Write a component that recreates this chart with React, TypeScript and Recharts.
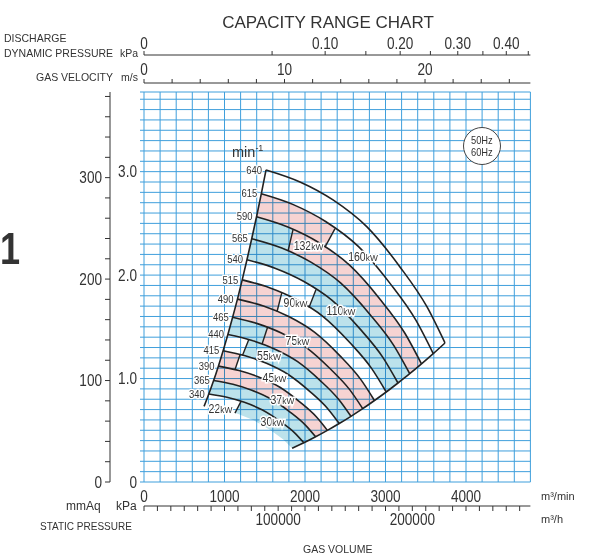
import React from 'react';
import { ComposedChart, Line, XAxis, YAxis, CartesianGrid, ReferenceDot } from 'recharts';

type Pair = [number, number];
type Pt = { q: number; p: number };

// fan curves: [gas volume m3/min, static pressure kPa]
const c315: Pair[] = [[746, 0.731], [954, 0.703], [1156, 0.661], [1363, 0.597], [1565, 0.504], [1731, 0.410], [1840, 0.326]];
const c340: Pair[] = [[805, 0.851], [1030, 0.819], [1247, 0.770], [1472, 0.696], [1689, 0.587], [1868, 0.478], [1986, 0.379]];
const c365: Pair[] = [[865, 0.981], [1105, 0.944], [1339, 0.887], [1580, 0.802], [1814, 0.676], [2005, 0.550], [2132, 0.437]];
const c390: Pair[] = [[924, 1.120], [1181, 1.077], [1431, 1.013], [1688, 0.916], [1938, 0.772], [2143, 0.628], [2278, 0.499]];
const c415: Pair[] = [[983, 1.269], [1257, 1.220], [1522, 1.147], [1796, 1.037], [2062, 0.874], [2280, 0.711], [2425, 0.565]];
const c440: Pair[] = [[1042, 1.426], [1332, 1.371], [1614, 1.289], [1904, 1.166], [2186, 0.983], [2417, 0.800], [2571, 0.635]];
const c465: Pair[] = [[1101, 1.593], [1408, 1.531], [1706, 1.440], [2013, 1.302], [2310, 1.097], [2555, 0.893], [2717, 0.709]];
const c490: Pair[] = [[1161, 1.768], [1484, 1.701], [1798, 1.599], [2121, 1.446], [2435, 1.219], [2692, 0.992], [2863, 0.788]];
const c515: Pair[] = [[1220, 1.954], [1559, 1.878], [1889, 1.766], [2229, 1.597], [2559, 1.346], [2829, 1.096], [3009, 0.870]];
const c540: Pair[] = [[1279, 2.148], [1635, 2.065], [1981, 1.941], [2337, 1.756], [2683, 1.480], [2967, 1.205], [3155, 0.957]];
const c565: Pair[] = [[1338, 2.351], [1711, 2.261], [2073, 2.125], [2445, 1.922], [2807, 1.620], [3104, 1.319], [3301, 1.047]];
const c590: Pair[] = [[1398, 2.564], [1787, 2.465], [2165, 2.318], [2554, 2.096], [2932, 1.767], [3241, 1.438], [3447, 1.142]];
const c615: Pair[] = [[1457, 2.786], [1862, 2.679], [2256, 2.518], [2662, 2.277], [3056, 1.920], [3379, 1.562], [3593, 1.241]];
const c640: Pair[] = [[1516, 3.017], [1938, 2.901], [2348, 2.727], [2770, 2.466], [3180, 2.079], [3516, 1.692], [3739, 1.344]];

const speeds = [340, 365, 390, 415, 440, 465, 490, 515, 540, 565, 590, 615, 640];

const curvesBySpeed: Record<number, Pair[]> = {
  315: c315, 340: c340, 365: c365, 390: c390, 415: c415, 440: c440, 465: c465,
  490: c490, 515: c515, 540: c540, 565: c565, 590: c590, 615: c615, 640: c640,
};

// short motor-size boundaries between two neighbouring curves
const crossLines: Record<string, { lo: Pair; hi: Pair }> = {
  d: { lo: [1130, 0.666], hi: [1205, 0.779] },
  c: { lo: [1130, 1.086], hi: [1193, 1.231] },
  b: { lo: [1224, 1.226], hi: [1302, 1.377] },
  a: { lo: [1466, 1.332], hi: [1534, 1.493] },
  g: { lo: [1652, 1.646], hi: [1711, 1.826] },
  h: { lo: [2050, 1.686], hi: [2137, 1.860] },
  e: { lo: [1789, 2.232], hi: [1851, 2.440] },
  f: { lo: [2248, 2.271], hi: [2373, 2.449] },
};

// shaded pieces between curves
const bands: { lo: number; hi: number; left?: string; right?: string; tone: 'pink' | 'blue' }[] = [
  { lo: 315, hi: 340, left: 'd', tone: 'blue' },
  { lo: 340, hi: 365, tone: 'blue' },
  { lo: 365, hi: 390, tone: 'pink' },
  { lo: 390, hi: 415, right: 'c', tone: 'pink' },
  { lo: 415, hi: 440, left: 'b', tone: 'blue' },
  { lo: 440, hi: 465, right: 'a', tone: 'blue' },
  { lo: 440, hi: 465, left: 'a', tone: 'pink' },
  { lo: 465, hi: 490, tone: 'pink' },
  { lo: 490, hi: 515, right: 'g', tone: 'pink' },
  { lo: 515, hi: 540, left: 'h', tone: 'blue' },
  { lo: 540, hi: 565, tone: 'blue' },
  { lo: 565, hi: 590, right: 'e', tone: 'blue' },
  { lo: 565, hi: 590, left: 'e', tone: 'pink' },
  { lo: 590, hi: 615, right: 'f', tone: 'pink' },
];

const kwLabels = [
  { kw: '22', q: 950, p: 0.706 },
  { kw: '30', q: 1596, p: 0.58 },
  { kw: '37', q: 1720, p: 0.793 },
  { kw: '45', q: 1621, p: 1.006 },
  { kw: '55', q: 1553, p: 1.219 },
  { kw: '75', q: 1907, p: 1.364 },
  { kw: '90', q: 1882, p: 1.731 },
  { kw: '110', q: 2447, p: 1.654 },
  { kw: '132', q: 2043, p: 2.282 },
  { kw: '160', q: 2720, p: 2.176 },
];

const qTicks = Array.from({ length: 25 }, (_, i) => i * 200);
const qLabels = [0, 1000, 2000, 3000, 4000];
const hTicks = Array.from({ length: 29 }, (_, i) => i * 10000);
const hLabels = [100000, 200000];
const kpaTicks = [...Array.from({ length: 38 }, (_, i) => i / 10), 3.77];
const kpaLabels: Record<string, string> = { '0': '0', '1': '1.0', '2': '2.0', '3': '3.0' };
const mmTicks = Array.from({ length: 20 }, (_, i) => i * 20);
const mmLabels = [0, 100, 200, 300];
const vTicks = Array.from({ length: 14 }, (_, i) => i * 2);
const vLabels = [0, 10, 20];
const dpTicks = [0, 0.05, 0.1, 0.15, 0.2, 0.25, 0.3, 0.35, 0.4, 0.45];
const dpLabels: Record<string, string> = { '0': '0', '0.1': '0.10', '0.2': '0.20', '0.3': '0.30', '0.4': '0.40' };

// axis extents, so the secondary scales get a domain of their own
const hRange = [{ h: 0, m: 0 }, { h: 288000, m: 384.4 }];
const vRange = [{ v: 0, m: 0 }, { v: 27.5, m: 384.4 }];
const dpRange = [{ dp: 0, m: 0 }, { dp: 0.455, m: 384.4 }];

const INK = '#333';
const GRID = '#3f9fdc';
const FONT = "'Liberation Sans', Arial, sans-serif";
const SQUEEZE = 0.85;

const toPt = ([q, p]: Pair): Pt => ({ q, p });

function bandPolygon(b: (typeof bands)[number]): Pt[] {
  const lower = curvesBySpeed[b.lo];
  const upper = curvesBySpeed[b.hi];
  const L = b.left ? crossLines[b.left] : null;
  const R = b.right ? crossLines[b.right] : null;
  const loMin = L ? L.lo[0] : -Infinity;
  const loMax = R ? R.lo[0] : Infinity;
  const hiMin = L ? L.hi[0] : -Infinity;
  const hiMax = R ? R.hi[0] : Infinity;
  const bottom = [...(L ? [L.lo] : []), ...lower.filter(([q]) => q > loMin && q < loMax), ...(R ? [R.lo] : [])];
  const top = [...(L ? [L.hi] : []), ...upper.filter(([q]) => q > hiMin && q < hiMax), ...(R ? [R.hi] : [])];
  return [...bottom, ...top.reverse()].map(toPt);
}

const edgeSpeeds = [315, ...speeds];
const surgeLine = edgeSpeeds.map((n) => toPt(curvesBySpeed[n][0]));
const limitLine = edgeSpeeds.map((n) => toPt(curvesBySpeed[n][curvesBySpeed[n].length - 1]));

// narrow-looking tick text (no condensed face installed)
const narrowTick = (fmt: (v: number) => string) => (props: any) => {
  const { x, y, payload, textAnchor, verticalAnchor } = props;
  const label = fmt(payload.value);
  if (!label) return <g />;
  const dy = verticalAnchor === 'start' ? '0.71em' : verticalAnchor === 'middle' ? '0.355em' : '0';
  return (
    <text
      transform={`translate(${x},${y}) scale(${SQUEEZE},1)`} textAnchor={textAnchor} dy={dy}
      fontSize={16} fill={INK} fontFamily={FONT}
    >
      {label}
    </text>
  );
};

const Txt = ({ x, y, size, children, style }: { x: number; y: number; size: number; children: React.ReactNode; style?: React.CSSProperties }) => (
  <div
    style={{
      position: 'absolute', left: x, top: y, fontSize: size, lineHeight: 1, whiteSpace: 'nowrap',
      fontFamily: FONT, color: INK, ...style,
    }}
  >
    {children}
  </div>
);

const hidden = { stroke: 'none', dot: false, activeDot: false, isAnimationActive: false } as const;

export default function App() {
  return (
    <div style={{ position: 'absolute', left: 0, top: 0, width: 592, height: 554, background: '#fff', overflow: 'hidden' }}>
      <style>{`
        .band-pink .recharts-line-curve { fill: #f6d3d2; mix-blend-mode: multiply; }
        .band-blue .recharts-line-curve { fill: #bce2eb; mix-blend-mode: multiply; }
      `}</style>
      <ComposedChart width={592} height={554} margin={{ top: 30, right: 61.6, bottom: 18, left: 60 }}>
        <CartesianGrid xAxisId="b1" yAxisId="y1" stroke={GRID} strokeWidth={1} />
        <XAxis
          xAxisId="b1" dataKey="q" type="number" domain={[0, 4800]} ticks={qTicks} interval={0}
          axisLine={false} tickLine={false} tickSize={0} tickMargin={9} height={24}
          tick={narrowTick((v) => (qLabels.includes(v) ? String(v) : ''))}
        />
        <XAxis
          xAxisId="b2" dataKey="h" type="number" domain={[0, 288000]} ticks={hTicks} interval={0}
          axisLine={{ stroke: INK }} tickLine={{ stroke: INK }} tickSize={5} tickMargin={3} height={30}
          tick={narrowTick((v) => (hLabels.includes(v) ? String(v) : ''))}
        />
        <XAxis xAxisId="t1" orientation="top" type="number" domain={[0, 1]} height={9} axisLine={false} tickLine={false} tick={false} />
        <XAxis
          xAxisId="t2" dataKey="v" orientation="top" type="number" domain={[0, 27.5]} ticks={vTicks} interval={0}
          axisLine={{ stroke: INK }} tickLine={{ stroke: INK }} tickSize={4} tickMargin={4} height={28}
          tick={narrowTick((v) => (vLabels.includes(v) ? String(v) : ''))}
        />
        <XAxis
          xAxisId="t3" dataKey="dp" orientation="top" type="number" scale="sqrt" domain={[0, 0.455]} ticks={dpTicks} interval={0}
          axisLine={{ stroke: INK }} tickLine={{ stroke: INK }} tickSize={4} tickMargin={2} height={25}
          tick={narrowTick((v) => dpLabels[String(v)] ?? '')}
        />
        <YAxis
          yAxisId="y1" type="number" domain={[0, 3.77]} ticks={kpaTicks} interval={0} width={34}
          axisLine={false} tickLine={{ stroke: GRID }} tickSize={4} tickMargin={3}
          tick={narrowTick((v) => kpaLabels[String(v)] ?? '')}
        />
        <YAxis
          yAxisId="y2" type="number" domain={[0, 384.4]} ticks={mmTicks} interval={0} width={50}
          axisLine={{ stroke: INK }} tickLine={{ stroke: INK }} tickSize={5} tickMargin={3}
          tick={narrowTick((v) => (mmLabels.includes(v) ? String(v) : ''))}
        />

        <Line xAxisId="b2" yAxisId="y2" data={hRange} dataKey="m" {...hidden} />
        <Line xAxisId="t2" yAxisId="y2" data={vRange} dataKey="m" {...hidden} />
        <Line xAxisId="t3" yAxisId="y2" data={dpRange} dataKey="m" {...hidden} />

        {bands.map((b, i) => (
          <Line
            key={`band-${i}`} xAxisId="b1" yAxisId="y1" data={bandPolygon(b)} dataKey="p" type="linear"
            className={`band-${b.tone}`} {...hidden}
          />
        ))}

        {speeds.map((n) => (
          <Line
            key={`rpm-${n}`} xAxisId="b1" yAxisId="y1" data={curvesBySpeed[n].map(toPt)} dataKey="p" type="monotone"
            stroke="#222" strokeWidth={1.6} dot={false} activeDot={false} isAnimationActive={false}
          />
        ))}
        <Line xAxisId="b1" yAxisId="y1" data={surgeLine} dataKey="p" type="monotone" stroke="#222" strokeWidth={1.6} dot={false} activeDot={false} isAnimationActive={false} />
        <Line xAxisId="b1" yAxisId="y1" data={limitLine} dataKey="p" type="monotone" stroke="#222" strokeWidth={1.6} dot={false} activeDot={false} isAnimationActive={false} />
        {Object.entries(crossLines).map(([k, c]) => (
          <Line
            key={`cross-${k}`} xAxisId="b1" yAxisId="y1" data={[toPt(c.lo), toPt(c.hi)]} dataKey="p" type="linear"
            stroke="#222" strokeWidth={1.4} dot={false} activeDot={false} isAnimationActive={false}
          />
        ))}

        {speeds.map((n) => (
          <ReferenceDot
            key={`sl-${n}`} xAxisId="b1" yAxisId="y1" x={curvesBySpeed[n][0][0]} y={curvesBySpeed[n][0][1]} r={1}
            shape={(pr: any) => (
              <text
                transform={`translate(${pr.cx - 4},${pr.cy}) scale(0.9,1)`} dy="0.35em" textAnchor="end"
                fontSize={10.5} fill={INK} fontFamily={FONT} stroke="#fff" strokeWidth={2.5} paintOrder="stroke"
              >
                {n}
              </text>
            )}
          />
        ))}
        {kwLabels.map((l) => (
          <ReferenceDot
            key={`kw-${l.kw}`} xAxisId="b1" yAxisId="y1" x={l.q} y={l.p} r={1}
            shape={(pr: any) => (
              <text
                transform={`translate(${pr.cx},${pr.cy}) scale(0.88,1)`} dy="0.35em" textAnchor="middle"
                fontSize={12} fill={INK} fontFamily={FONT} stroke="#fff" strokeWidth={3} paintOrder="stroke"
              >
                {l.kw}
                <tspan fontSize={9.5}>kW</tspan>
              </text>
            )}
          />
        ))}
      </ComposedChart>

      <Txt x={128} y={13.5} size={17} style={{ width: 400, textAlign: 'center' }}>CAPACITY RANGE CHART</Txt>
      <Txt x={4} y={32.5} size={10.5}>DISCHARGE</Txt>
      <Txt x={4} y={48} size={10.5}>DYNAMIC PRESSURE</Txt>
      <Txt x={120} y={48} size={10.5}>kPa</Txt>
      <Txt x={36} y={72} size={10.5}>GAS VELOCITY</Txt>
      <Txt x={121} y={72} size={10.5}>m/s</Txt>
      <Txt x={0} y={227} size={44} style={{ fontWeight: 700, transform: 'scaleX(0.82)', transformOrigin: 'left top' }}>1</Txt>
      <Txt x={66} y={500} size={12}>mmAq</Txt>
      <Txt x={116} y={500} size={12}>kPa</Txt>
      <Txt x={40} y={522} size={10}>STATIC PRESSURE</Txt>
      <Txt x={303} y={544} size={10.5}>GAS VOLUME</Txt>
      <Txt x={541} y={490.5} size={11}>m³/min</Txt>
      <Txt x={541} y={513.5} size={11}>m³/h</Txt>
      <Txt x={232} y={144} size={14.5}>
        min<sup style={{ fontSize: 9 }}>-1</sup>
      </Txt>
      <div
        style={{
          position: 'absolute', left: 463, top: 127, width: 36, height: 36, borderRadius: '50%',
          border: '1px solid #444', background: '#fff', display: 'flex', flexDirection: 'column',
          alignItems: 'center', justifyContent: 'center', fontFamily: FONT, fontSize: 11, lineHeight: '12.5px', color: INK,
        }}
      >
        <span style={{ display: 'inline-block', transform: 'scaleX(0.85)' }}>50Hz</span>
        <span style={{ display: 'inline-block', transform: 'scaleX(0.85)' }}>60Hz</span>
      </div>
    </div>
  );
}
